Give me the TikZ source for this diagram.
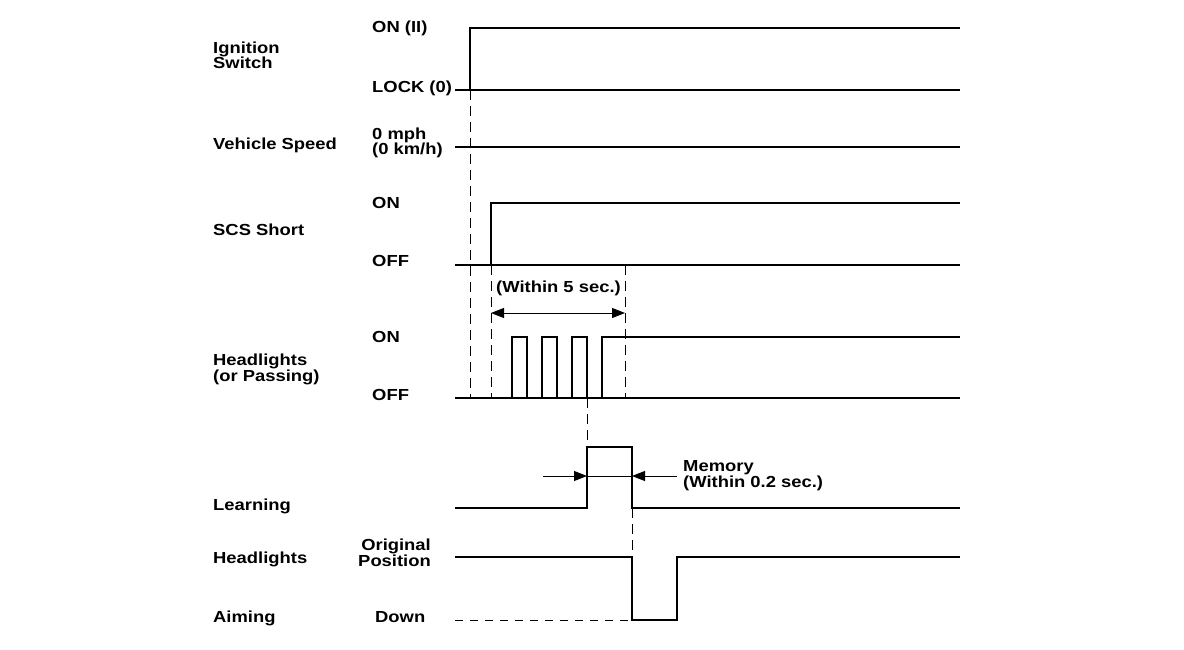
\documentclass[tikz,border=0pt]{standalone}
\usepackage{fontspec}
\newfontfamily\labfont{Liberation Sans}[FakeStretch=1.15]
\usetikzlibrary{arrows.meta}
\tikzset{
  lab/.style={anchor=base west, inner sep=0pt, font=\labfont\bfseries\fontsize{16}{13.5}\selectfont, align=left},
  labr/.style={lab, anchor=base east, align=right},
  sig/.style={line width=2pt, line join=miter},
  sigb/.style={line width=2.8pt, line join=miter},
  dsh/.style={line width=1pt, dash pattern=on 10pt off 6pt},
  dshh/.style={line width=1pt, dash pattern=on 8pt off 7pt},
  thinl/.style={line width=1pt},
  tip/.style={-{Triangle[length=13pt,width=10pt]}},
  tips/.style={{Triangle[length=13pt,width=10pt]}-{Triangle[length=13pt,width=10pt]}},
}
\begin{document}
\begin{tikzpicture}[x=1pt,y=-1pt]
\useasboundingbox (0,0) rectangle (1184,650);
% labels (base anchor = baseline of the last line)
\node[lab] (ign) at (213,69) {Ignition\\Switch};
\node[lab] (onII) at (372,33) {ON (II)};
\node[lab] (lock) at (372,93) {LOCK (0)};
\node[lab] (vs) at (213,150) {Vehicle Speed};
\node[lab] (mph) at (372,155) {0 mph\\(0 km/h)};
\node[lab] (scs) at (213,235) {SCS Short};
\node[lab] (scson) at (372,208) {ON};
\node[lab] (scsoff) at (372,266) {OFF};
\node[lab] (w5) at (496,292) {(Within 5 sec.)};
\node[lab] (hl) at (213,381) {Headlights\\(or Passing)};
\node[lab] (hlon) at (372,342) {ON};
\node[lab] (hloff) at (372,400) {OFF};
\node[lab] (learn) at (213,510) {Learning};
\node[lab] (mem) at (683,487) {Memory\\(Within 0.2 sec.)};
\node[lab] (ha1) at (213,563) {Headlights};
\node[lab] (ha2) at (213,622) {Aiming};
\node[labr] (orig) at (431,566) {Original\\Position};
\node[lab] (down) at (375,622) {Down};
% coordinates
\coordinate (ig0) at (470,90);
\coordinate (sc0) at (491,265);
\coordinate (w5e) at (625,265);
\coordinate (hlb) at (470,398);
\coordinate (hlc) at (491,398);
\coordinate (hld) at (625,398);
\coordinate (lr0) at (587,398);
\coordinate (lr1) at (587,447);
\coordinate (lf0) at (632,508);
\coordinate (lf1) at (632,557);
% ignition switch
\draw[sig] (455,90) -- (960,90);
\draw[sig] (ig0) -- (470,28) -- (960,28);
% vehicle speed
\draw[sig] (455,147) -- (960,147);
% SCS short
\draw[sigb] (455,265) -- (960,265);
\draw[sigb] (sc0) -- (491,203) -- (960,203);
% headlights (or passing)
\draw[sigb] (455,398) -- (960,398);
\draw[sig] (512,398) -- (512,337) -- (527,337) -- (527,398);
\draw[sig] (542,398) -- (542,337) -- (557,337) -- (557,398);
\draw[sig] (572,398) -- (572,337) -- (587,337) -- (587,398);
\draw[sigb] (602,398) -- (602,337) -- (960,337);
% learning
\draw[sig] (455,508) -- (587,508) -- (lr1) -- (632,447) -- (lf0) -- (960,508);
% aiming
\draw[sig] (455,557) -- (lf1) -- (632,620) -- (677,620) -- (677,557) -- (960,557);
\draw[dshh] (455,620) -- (632,620);
% dashed guides
\draw[dsh] (ig0) -- (hlb);
\draw[dsh] (sc0) -- (hlc);
\draw[dsh] (w5e) -- (hld);
\draw[dsh] (lr0) -- (lr1);
\draw[dsh] (lf0) -- (lf1);
% timing arrows
\coordinate (a5l) at (491,313);
\coordinate (a5r) at (625,313);
\draw[thinl,tips] (a5l) -- (a5r);
\coordinate (m0) at (543,476);
\coordinate (m1) at (587,476);
\coordinate (m2) at (632,476);
\coordinate (m3) at (677,476);
\draw[thinl,tip] (m0) -- (m1);
\draw[thinl] (m1) -- (m2);
\draw[thinl,tip] (m3) -- (m2);
\end{tikzpicture}
\end{document}
